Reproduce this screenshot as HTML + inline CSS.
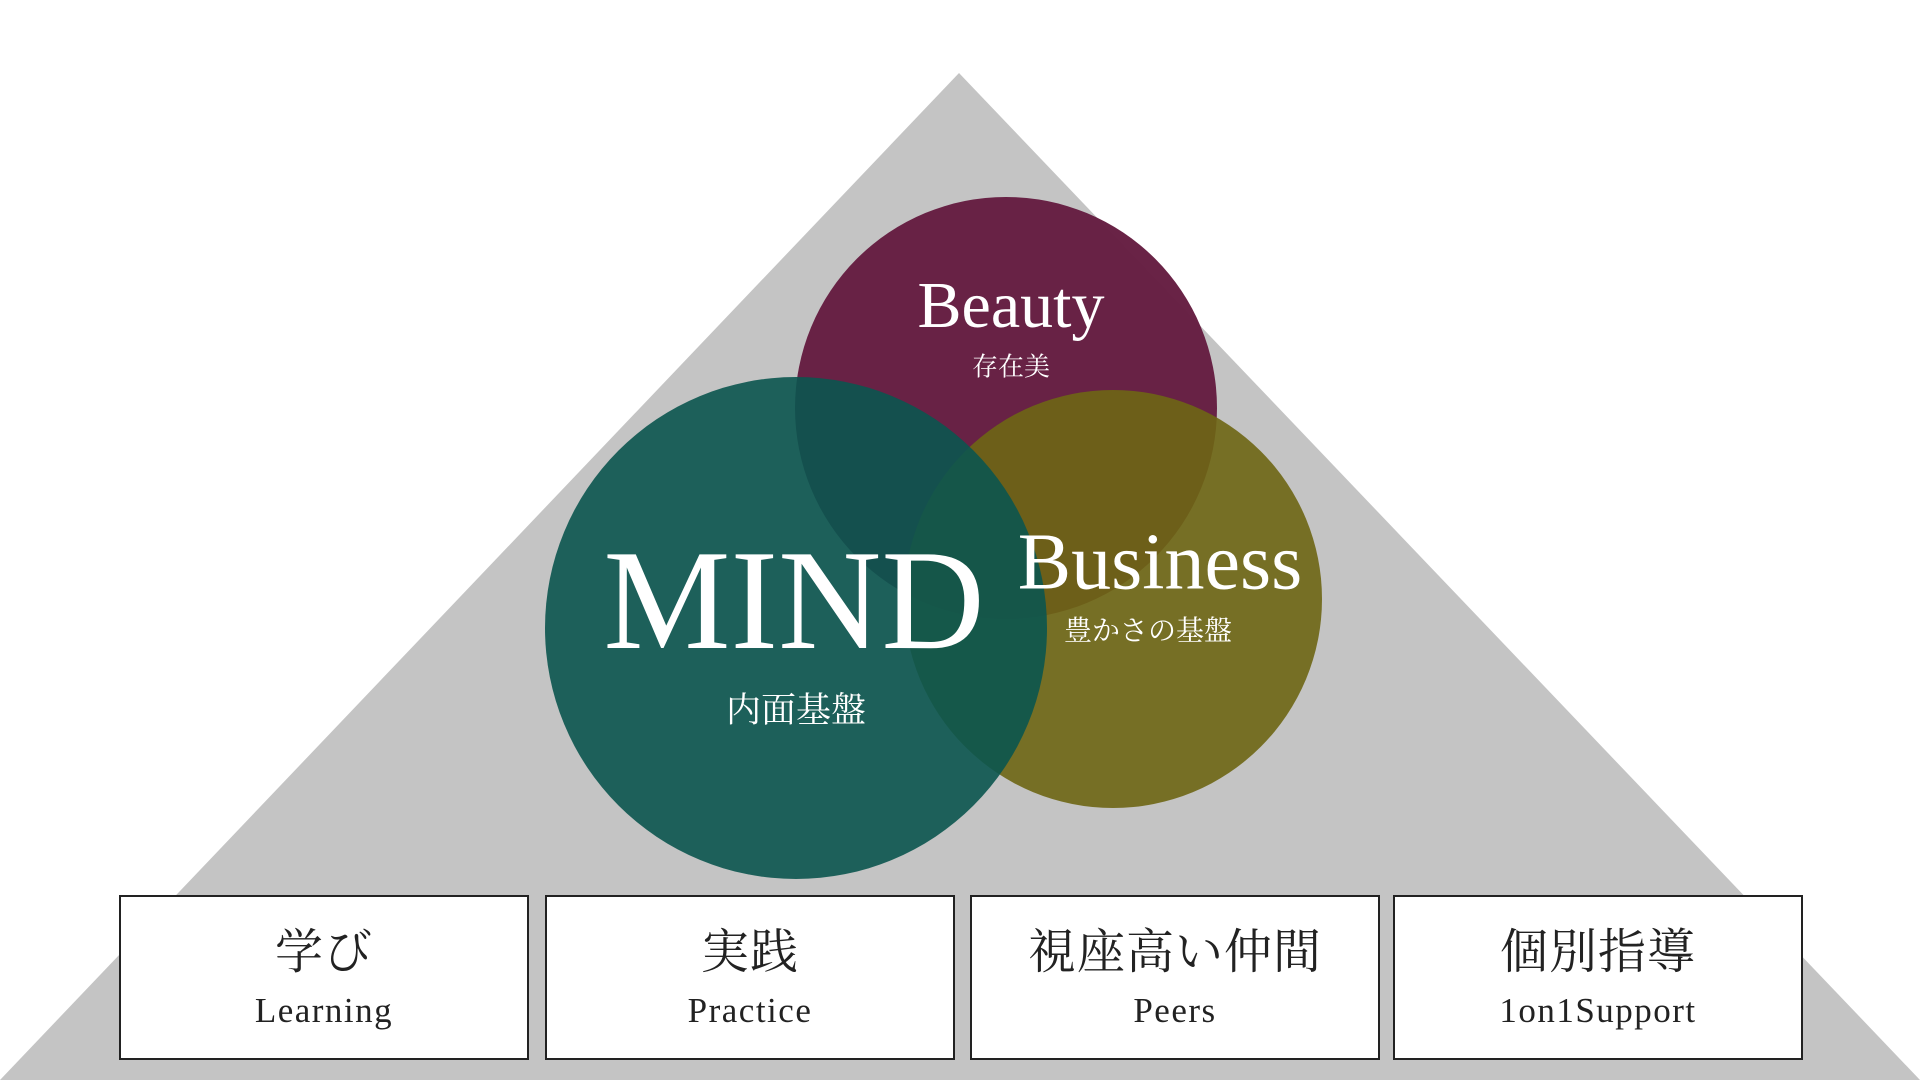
<!DOCTYPE html>
<html><head><meta charset="utf-8"><style>
html,body{margin:0;padding:0;width:1920px;height:1080px;background:#fff;overflow:hidden;}
.t{position:absolute;color:#fff;white-space:nowrap;transform:translate(-50%,-50%);}
.serif{font-family:"Liberation Serif","Noto Serif CJK SC",serif;}
.box{position:absolute;top:895px;width:406px;height:161px;border:2px solid #222;background:#fff;font-family:"Liberation Serif","Noto Serif CJK SC",serif;color:#222;text-align:center;}
.box .j{position:absolute;left:0;right:0;top:28px;font-size:48px;line-height:56px;letter-spacing:1px;}
.box .e{position:absolute;left:0;right:0;top:94px;font-size:35px;line-height:40px;letter-spacing:1.5px;}
</style></head><body>
<svg width="1920" height="1080" style="position:absolute;left:0;top:0">
<polygon points="959,73 0,1080 1920,1080" fill="#c4c4c4"/>
<circle cx="1006" cy="408" r="211" fill="#661f42" fill-opacity="0.98"/>
<circle cx="1113" cy="599" r="209" fill="#6e6614" fill-opacity="0.9"/>
<circle cx="796" cy="628" r="251" fill="#0b554f" fill-opacity="0.9"/>
</svg>
<div class="t serif" style="left:1011px;top:306px;font-size:66px;">Beauty</div>
<div class="t serif" style="left:1011px;top:365px;font-size:26px;">存在美</div>
<div class="t serif" style="left:1160px;top:563px;font-size:80px;">Business</div>
<div class="t serif" style="left:1148px;top:629px;font-size:28px;">豊かさの基盤</div>
<div class="t serif" style="left:794px;top:600px;font-size:143px;">MIND</div>
<div class="t serif" style="left:796px;top:708px;font-size:35px;">内面基盤</div>
<div class="box" style="left:119px"><div class="j">学び</div><div class="e">Learning</div></div>
<div class="box" style="left:545px"><div class="j">実践</div><div class="e">Practice</div></div>
<div class="box" style="left:970px"><div class="j">視座高い仲間</div><div class="e">Peers</div></div>
<div class="box" style="left:1393px"><div class="j">個別指導</div><div class="e">1on1Support</div></div>
</body></html>
